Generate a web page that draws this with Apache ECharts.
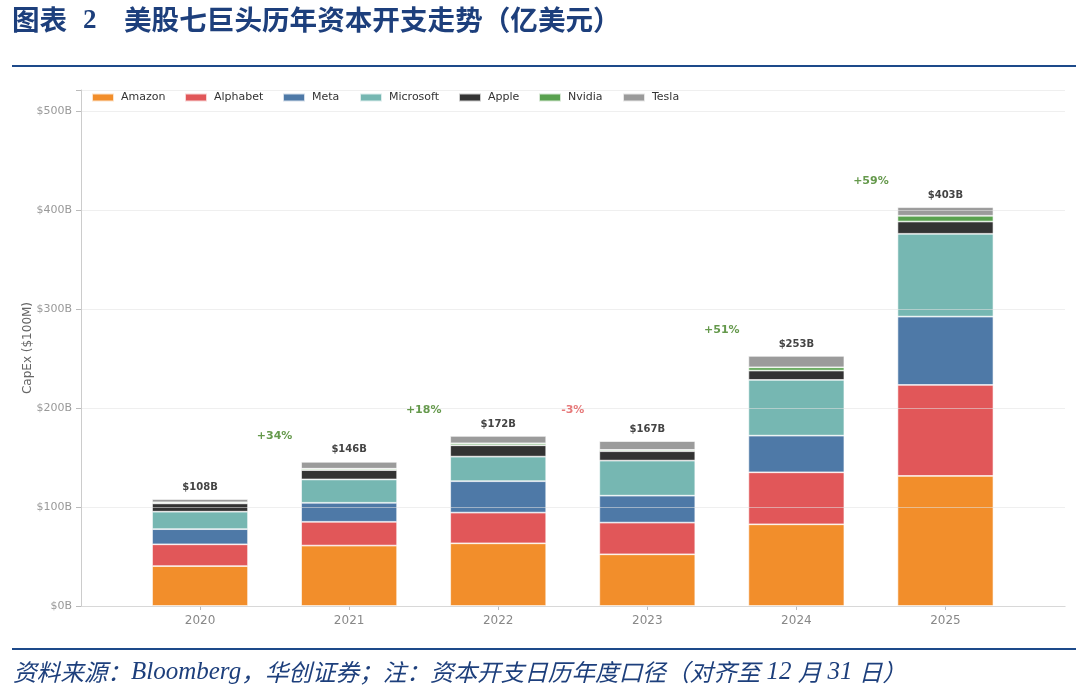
<!DOCTYPE html>
<html>
<head>
<meta charset="utf-8">
<script src="https://cdn.jsdelivr.net/npm/echarts@6/dist/echarts.min.js"></script>
<style>
html,body{margin:0;padding:0;background:#fff;}
#chart{width:1080px;height:692px;}
</style>
</head>
<body>
<div id="chart"></div>
<script>
// ---- data (US$ billions) ----
const years = ['2020', '2021', '2022', '2023', '2024', '2025'];
const amazon    = [40.3, 61.0, 63.3, 52.2, 82.5, 131.3];
const alphabet  = [22.0, 24.0, 31.0, 32.0, 52.5, 91.9];
const meta      = [15.3, 19.2, 31.7, 27.2, 37.0, 69.0];
const microsoft = [17.6, 23.6, 24.8, 35.4, 56.3, 83.6];
const apple     = [8.4, 9.4, 11.5, 9.5, 9.4, 12.4];
const nvidia    = [1.1, 1.4, 2.0, 1.3, 3.3, 5.8];
const tesla     = [3.3, 7.0, 7.4, 8.9, 11.5, 8.7];
const totalLabels = ['$108B', '$146B', '$172B', '$167B', '$253B', '$403B'];
const growth = ['+34%', '+18%', '-3%', '+51%', '+59%'];
const yTicks = [0, 100, 200, 300, 400, 500];

const names = ['Amazon', 'Alphabet', 'Meta', 'Microsoft', 'Apple', 'Nvidia', 'Tesla'];
const seriesData = [amazon, alphabet, meta, microsoft, apple, nvidia, tesla];
const colors = ['#F28E2B', '#E15759', '#4E79A7', '#76B7B2', '#333333', '#59A14F', '#9B9B9B'];

const stackTotals = years.map((_, i) => seriesData.reduce((s, arr) => s + arr[i], 0));

const Y_MAX = 521;
const gridTop = 90, gridBottom = 86;
const legendLefts = [91, 184, 282, 359, 458, 538, 622];

const chart = echarts.init(document.getElementById('chart'), null, {renderer: 'canvas'});

const barSeries = names.map((n, k) => ({
  name: n,
  type: 'bar',
  stack: 'capex',
  xAxisIndex: 1,
  yAxisIndex: 1,
  barWidth: 96,
  data: seriesData[k],
  itemStyle: {color: colors[k], borderColor: 'rgba(255,255,255,0.75)', borderWidth: 0.8},
  emphasis: {disabled: true},
  label: k === names.length - 1 ? {
    show: true,
    position: 'top',
    distance: 7,
    formatter: p => totalLabels[p.dataIndex],
    fontFamily: 'DejaVu Sans',
    fontWeight: 'bold',
    fontSize: 10,
    color: '#444'
  } : {show: false}
}));

const growthPoints = growth.map((g, i) => ({
  value: [i + 0.5, Math.max(stackTotals[i], stackTotals[i + 1]) + 26],
  label: {color: g.startsWith('-') ? '#E15759' : '#3F7F1F'}
}));

const legends = names.map((n, k) => ({
  data: [n],
  left: legendLefts[k],
  top: 92,
  padding: 0,
  itemWidth: 22,
  itemHeight: 8,
  icon: 'rect',
  textStyle: {fontFamily: 'DejaVu Sans', fontSize: 11, color: '#333', padding: [0, 0, 0, 2]},
  selectedMode: false
}));

chart.setOption({
  animation: false,
  backgroundColor: '#fff',
  color: colors,
  graphic: [
    {type: 'text', left: 12, top: 6, style: {
      text: '图表', font: 'bold 27.6px "Noto Sans CJK SC", sans-serif', fill: '#1D3F7C'}},
    {type: 'text', left: 83, top: 8, style: {
      text: '2', font: 'bold 27px "Liberation Serif", serif', fill: '#1D3F7C'}},
    {type: 'text', left: 124, top: 6, style: {
      text: '美股七巨头历年资本开支走势（亿美元）',
      font: 'bold 27.6px "Noto Sans CJK SC", sans-serif', fill: '#1D3F7C'}},
    {type: 'rect', shape: {x: 12, y: 65, width: 1064, height: 2}, style: {fill: '#1D4A8A'}},
    {type: 'rect', shape: {x: 12, y: 648, width: 1064, height: 2}, style: {fill: '#1D4A8A'}},
    {type: 'text', left: 13, top: 660, style: {
      text: '{c|资料来源：}{l|Bloomberg}{c|，华创证券；注：资本开支日历年度口径（对齐至}{l| 12 }{c|月}{l| 31 }{c|日）}',
      rich: {
        c: {font: 'italic 23.6px "Noto Sans CJK SC", sans-serif', fill: '#1D3F7C', color: '#1D3F7C'},
        l: {font: 'italic 25px "Liberation Serif", serif', fill: '#1D3F7C', color: '#1D3F7C'}
      },
      fill: '#1D3F7C'}}
  ],
  legend: legends,
  grid: [
    {left: 81, right: 15, top: gridTop, bottom: gridBottom},
    {left: 125.5, right: 60, top: gridTop, bottom: gridBottom}
  ],
  xAxis: [
    {type: 'value', gridIndex: 0, min: 0, max: 1, show: true,
      axisLine: {show: true, lineStyle: {color: '#cccccc', width: 1}},
      axisTick: {show: false}, axisLabel: {show: false}, splitLine: {show: false}},
    {type: 'category', gridIndex: 1, data: years,
      axisLine: {show: false},
      axisTick: {show: true, alignWithLabel: true, length: 4, lineStyle: {color: '#bbbbbb'}},
      axisLabel: {fontFamily: 'DejaVu Sans', fontSize: 12, color: '#888', margin: 9}},
    {type: 'value', gridIndex: 1, min: -0.5, max: 5.5, show: false}
  ],
  yAxis: [
    {type: 'value', gridIndex: 0, min: 0, max: Y_MAX, interval: 100, z: 5,
      name: 'CapEx ($100M)', nameLocation: 'middle', nameRotate: 90, nameGap: 47,
      nameMoveOverlap: false,
      nameTextStyle: {fontFamily: 'DejaVu Sans', fontSize: 12, color: '#666'},
      axisLine: {show: true, lineStyle: {color: '#cccccc'}},
      axisTick: {show: true, length: 5, lineStyle: {color: '#bbbbbb'}},
      axisLabel: {fontFamily: 'DejaVu Sans', fontSize: 11, color: '#999', margin: 9,
        formatter: v => yTicks.includes(v) ? '$' + v + 'B' : ''},
      splitLine: {show: true, lineStyle: {color: 'rgba(225,225,225,0.55)', width: 1}}},
    {type: 'value', gridIndex: 1, min: 0, max: Y_MAX, show: false, splitLine: {show: false}}
  ],
  series: barSeries.concat([{
    type: 'scatter',
    xAxisIndex: 2,
    yAxisIndex: 1,
    symbolSize: 0,
    data: growthPoints,
    z: 6,
    label: {show: true, position: 'inside', formatter: p => growth[p.dataIndex],
      fontFamily: 'DejaVu Sans', fontWeight: 'bold', fontSize: 11}
  }])
});
</script>
</body>
</html>
